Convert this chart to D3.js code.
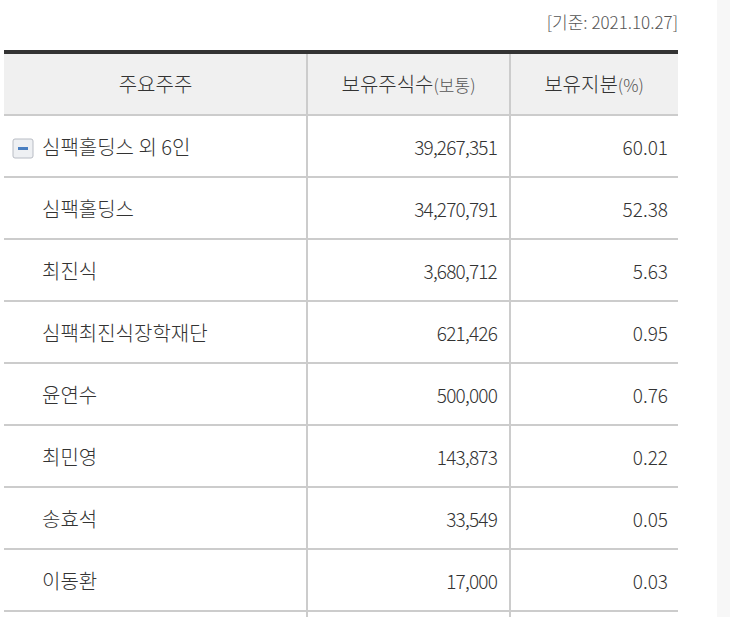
<!DOCTYPE html>
<html><head><meta charset="utf-8">
<script src="https://cdn.jsdelivr.net/npm/d3@7"></script>
<style>body{margin:0;background:#fff;font-family:"Noto Sans CJK KR","Noto Sans",sans-serif;}svg text{font-weight:300;}</style>
</head><body>
<svg id="chart" width="730" height="617"></svg>
<script>
// table data
var holders = ['심팩홀딩스 외 6인', '심팩홀딩스', '최진식', '심팩최진식장학재단', '윤연수', '최민영', '송효석', '이동환'];
var shares = ['39,267,351', '34,270,791', '3,680,712', '621,426', '500,000', '143,873', '33,549', '17,000'];
var stakes = ['60.01', '52.38', '5.63', '0.95', '0.76', '0.22', '0.05', '0.03'];
var baseDate = '[기준: 2021.10.27]';

var svg = d3.select('#chart');
var L = 4, R = 678, c1 = 307, c2 = 510;

// right side strip
svg.append('rect').attr('x', 717).attr('y', 0).attr('width', 13).attr('height', 617).attr('fill', '#f7f7f7');

svg.append('text').attr('x', R).attr('y', 29).attr('text-anchor', 'end')
  .attr('fill', '#555').attr('font-size', 17).text(baseDate);

var y = d3.scaleBand().domain(d3.range(holders.length)).range([115, 115 + 62 * holders.length]);

// header
svg.append('rect').attr('x', L).attr('y', 54).attr('width', R - L).attr('height', 61).attr('fill', '#f0f0f0');
svg.append('rect').attr('x', L).attr('y', 50).attr('width', R - L).attr('height', 4).attr('fill', '#333');

var hdr = svg.append('g').attr('font-size', 20).attr('fill', '#333');
hdr.append('text').attr('x', (L + c1) / 2).attr('y', 92).attr('text-anchor', 'middle').text('주요주주');
var h2 = hdr.append('text').attr('x', (c1 + c2) / 2).attr('y', 92).attr('text-anchor', 'middle');
h2.append('tspan').text('보유주식수');
h2.append('tspan').attr('font-size', 17).attr('fill', '#555').text('(보통)');
var h3 = hdr.append('text').attr('x', (c2 + R) / 2).attr('y', 92).attr('text-anchor', 'middle');
h3.append('tspan').text('보유지분');
h3.append('tspan').attr('font-size', 17).attr('fill', '#555').text('(%)');

// rows
var rows = svg.selectAll('g.row').data(holders).enter().append('g').attr('class', 'row')
  .attr('transform', function(d, i) { return 'translate(0,' + y(i) + ')'; });

rows.append('line').attr('x1', L).attr('x2', R).attr('y1', y.bandwidth()).attr('y2', y.bandwidth())
  .attr('stroke', '#ccc').attr('stroke-width', 2);

rows.append('text').attr('x', 42).attr('y', 40).attr('font-size', 20).attr('fill', '#333').text(function(d) { return d; });
rows.append('text').attr('x', 497).attr('y', 40).attr('font-size', 19).attr('fill', '#333').attr('text-anchor', 'end')
  .attr('letter-spacing', -0.8).text(function(d, i) { return shares[i]; });
rows.append('text').attr('x', 668).attr('y', 40).attr('font-size', 19).attr('fill', '#333').attr('text-anchor', 'end')
  .text(function(d, i) { return stakes[i]; });

// header bottom line + column lines
svg.append('line').attr('x1', L).attr('x2', R).attr('y1', 115).attr('y2', 115).attr('stroke', '#ccc').attr('stroke-width', 2);
[c1, c2].forEach(function(cx) {
  svg.append('line').attr('x1', cx).attr('x2', cx).attr('y1', 54).attr('y2', 617).attr('stroke', '#ccc').attr('stroke-width', 2);
});

// collapse icon on first row
var ic = svg.append('g').attr('transform', 'translate(13,' + (y(0) + 24) + ')');
ic.append('rect').attr('width', 20).attr('height', 19).attr('rx', 2).attr('fill', '#eef0f3').attr('stroke', '#b8bcc4');
ic.append('rect').attr('x', 5).attr('y', 8).attr('width', 10).attr('height', 3).attr('fill', '#4a7fc1');
</script>
</body></html>
